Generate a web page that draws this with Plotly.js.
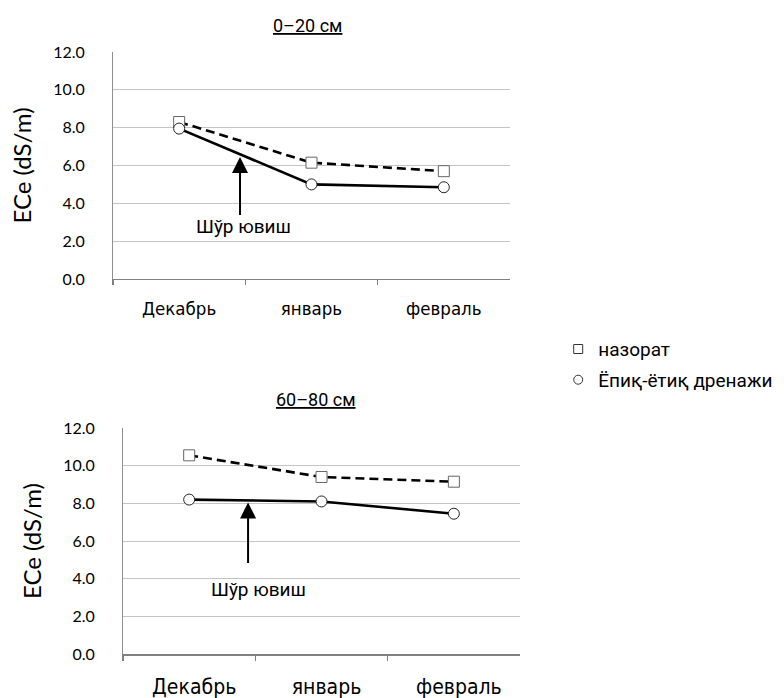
<!DOCTYPE html>
<html>
<head>
<meta charset="utf-8">
<script src="https://cdn.plot.ly/plotly-3.0.1.min.js"></script>
<style>html,body{margin:0;padding:0;background:#fff;}#chart{width:784px;height:698px;}</style>
</head>
<body>
<div id="chart"></div>
<script>
// ---- data ----
const categories = ['Декабрь', 'январь', 'февраль'];
const nazorat_0_20 = [8.3, 6.15, 5.7];
const drenaj_0_20 = [7.95, 5.0, 4.85];
const nazorat_60_80 = [10.55, 9.4, 9.15];
const drenaj_60_80 = [8.2, 8.1, 7.45];
const yTickVals = [0, 2, 4, 6, 8, 10, 12];
const seriesNames = ['назорат', 'Ёпиқ-ётиқ дренажи'];
const panelTitles = ['0–20 см', '60–80 см'];
const yTitle = 'ECe (dS/m)';
const arrowLabel = 'Шўр ювиш';
// arrow annotation: [category position, tip value, tail value, label position, label value]
const arrow_0_20 = [0.46, 6.45, 3.3, 0.49, 2.75];
const arrow_60_80 = [0.445, 8.05, 4.75, 0.525, 3.45];

const TICKF = 'Lato, Open Sans, sans-serif';
const CATF = 'DejaVu Sans Condensed, DejaVu Sans, sans-serif';
const TXT = 'Roboto, Noto Sans, sans-serif';

function lineTrace(y, xa, ya, dashed) {
  return {
    x: categories, y: y, xaxis: xa, yaxis: ya, type: 'scatter',
    mode: 'lines+markers', showlegend: false, hoverinfo: 'skip',
    line: {color: '#000', width: 2.6, dash: dashed ? '9px,5px' : 'solid'},
    marker: dashed
      ? {symbol: 'square', size: 11, color: '#fff', line: {color: '#666', width: 1}}
      : {symbol: 'circle', size: 11, color: '#fff', line: {color: '#222', width: 1}}
  };
}

const data = [
  lineTrace(nazorat_0_20, 'x', 'y', true),
  lineTrace(drenaj_0_20, 'x', 'y', false),
  lineTrace(nazorat_60_80, 'x2', 'y2', true),
  lineTrace(drenaj_60_80, 'x2', 'y2', false),
  {x: [null], y: [null], type: 'scatter', mode: 'markers', name: seriesNames[0], legendgroup: 'a',
   marker: {symbol: 'square-open', size: 9, color: '#333', line: {width: 1}}},
  {x: [null], y: [null], type: 'scatter', mode: 'markers', name: seriesNames[1], legendgroup: 'b',
   marker: {symbol: 'circle-open', size: 9, color: '#333', line: {width: 1}}}
];

function xAxis(domain, anchor, fs, standoff, shift) {
  return {
    domain: domain, anchor: anchor, type: 'category', range: [-0.5, 2.5],
    showline: true, linecolor: '#808080', linewidth: 1.5,
    ticks: 'outside', ticklen: 5, tickcolor: '#808080', tickwidth: 1.2, tickson: 'boundaries',
    showgrid: false, zeroline: false, fixedrange: true,
    tickfont: {family: CATF, size: fs, color: '#000'}, ticklabelstandoff: standoff, ticklabelshift: shift
  };
}
// overlay axis drawing the upper half of the crossing tick marks
function xTickOverlay(domain, anchor, over) {
  return {
    domain: domain, anchor: anchor, overlaying: over, range: [-0.5, 2.5],
    tickvals: [-0.5, 0.5, 1.5, 2.5], showticklabels: false,
    ticks: 'inside', ticklen: 6, tickcolor: '#808080', tickwidth: 1.2,
    showline: false, showgrid: false, zeroline: false, fixedrange: true
  };
}
function yAxis(domain, anchor) {
  return {
    domain: domain, anchor: anchor, range: [0, 12], tickvals: yTickVals, tickformat: '.1f',
    showline: true, linecolor: '#909090', linewidth: 1,
    ticks: '', showgrid: true, gridcolor: '#c4c4c4', gridwidth: 1, zeroline: false, fixedrange: true,
    tickfont: {family: TICKF, size: 16, color: '#000'}, ticklabelstandoff: 24,
    title: {text: yTitle, font: {family: TICKF, size: 24, color: '#000'}, standoff: 14}
  };
}

function arrowAnn(a, xr, yr) {
  return [
    {x: a[0], y: a[1], ax: a[0], ay: a[2], xref: xr, yref: yr, axref: xr, ayref: yr,
     text: '', showarrow: true, arrowhead: 2, arrowsize: 1.6, arrowwidth: 2, arrowcolor: '#000'},
    {x: a[3], y: a[4], xref: xr, yref: yr, text: arrowLabel, showarrow: false,
     font: {family: TXT, size: 19, color: '#000'}, xanchor: 'center', yanchor: 'middle'}
  ];
}

const layout = {
  width: 784, height: 698,
  margin: {l: 0, r: 0, t: 0, b: 0},
  paper_bgcolor: '#fff', plot_bgcolor: '#fff',
  xaxis: xAxis([0.1441, 0.6505], 'y', 18.5, 12, 0),
  yaxis: yAxis([0.6003, 0.9255], 'x'),
  xaxis2: xAxis([0.1569, 0.6633], 'y2', 21, 13, 5),
  yaxis2: yAxis([0.0630, 0.3868], 'x2'),
  xaxis3: xTickOverlay([0.1441, 0.6505], 'y', 'x'),
  xaxis4: xTickOverlay([0.1569, 0.6633], 'y2', 'x2'),
  showlegend: true,
  legend: {x: 0.712, y: 0.527, xanchor: 'left', yanchor: 'top', traceorder: 'grouped', tracegroupgap: 3,
           font: {family: TXT, size: 19, color: '#000'}, bgcolor: 'rgba(0,0,0,0)', itemwidth: 30},
  annotations: [
    {x: 0.392, y: 0.964, xref: 'paper', yref: 'paper', text: '<u>' + panelTitles[0] + '</u>', showarrow: false,
     xanchor: 'center', yanchor: 'middle', font: {family: TXT, size: 18, color: '#000'}},
    {x: 0.403, y: 0.427, xref: 'paper', yref: 'paper', text: '<u>' + panelTitles[1] + '</u>', showarrow: false,
     xanchor: 'center', yanchor: 'middle', font: {family: TXT, size: 18, color: '#000'}}
  ].concat(arrowAnn(arrow_0_20, 'x', 'y')).concat(arrowAnn(arrow_60_80, 'x2', 'y2'))
};

Plotly.newPlot('chart', data, layout, {staticPlot: true});
</script>
</body>
</html>
